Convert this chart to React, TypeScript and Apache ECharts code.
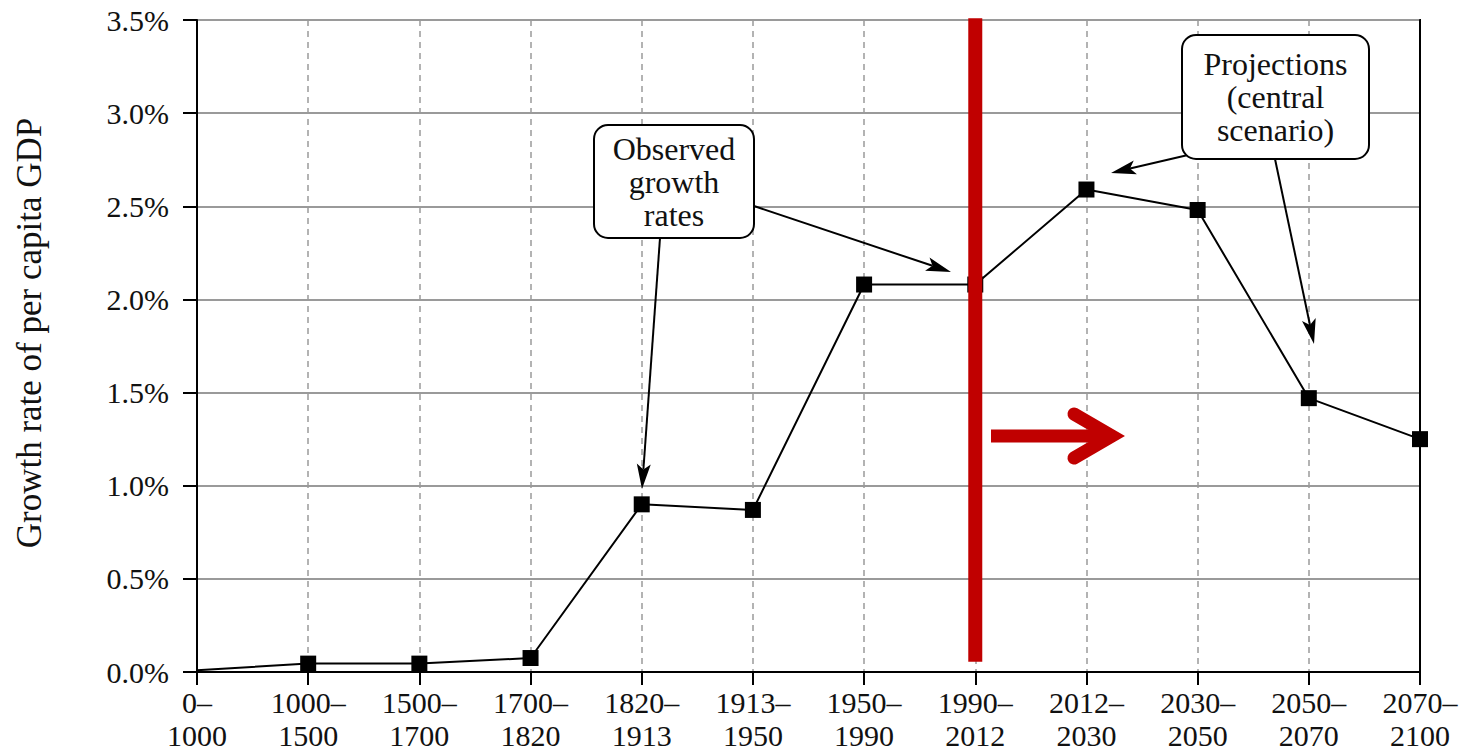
import React, { useEffect, useRef } from 'react';
import * as echarts from 'echarts';

const periods = [
  '0–\n1000', '1000–\n1500', '1500–\n1700', '1700–\n1820', '1820–\n1913', '1913–\n1950',
  '1950–\n1990', '1990–\n2012', '2012–\n2030', '2030–\n2050', '2050–\n2070', '2070–\n2100',
];
const growthRates = [0.01, 0.045, 0.045, 0.075, 0.9, 0.87, 2.08, 2.08, 2.59, 2.48, 1.47, 1.25];
const dividerPeriod = periods[7];
const dividerSpan = [3.51, 0.055];
const yAxisTitle = 'Growth rate of per capita GDP';
const observedLabel = 'Observed\ngrowth\nrates';
const projectionLabel = 'Projections\n(central\nscenario)';

const SERIF = '"Liberation Serif", "DejaVu Serif", serif';

function arrow(x1: number, y1: number, x2: number, y2: number, len = 25, w = 7) {
  const dx = x2 - x1;
  const dy = y2 - y1;
  const d = Math.hypot(dx, dy);
  const ux = dx / d;
  const uy = dy / d;
  const px = -uy;
  const py = ux;
  const bx = x2 - ux * len;
  const by = y2 - uy * len;
  const nx = x2 - ux * len * 0.78;
  const ny = y2 - uy * len * 0.78;
  return [
    {
      type: 'line',
      shape: { x1, y1, x2: nx, y2: ny },
      style: { stroke: '#000', lineWidth: 2 },
      z: 50,
    },
    {
      type: 'polygon',
      shape: {
        points: [
          [x2, y2],
          [bx + px * w, by + py * w],
          [nx, ny],
          [bx - px * w, by - py * w],
        ],
      },
      style: { fill: '#000' },
      z: 50,
    },
  ];
}

function callout(x: number, y: number, w: number, h: number, text: string) {
  return [
    {
      type: 'rect',
      shape: { x, y, width: w, height: h, r: 14 },
      style: { fill: '#fff', stroke: '#000', lineWidth: 2 },
      z: 60,
    },
    {
      type: 'text',
      x: x + w / 2,
      y: y + h / 2,
      style: {
        text,
        fill: '#111',
        font: `32px ${SERIF}`,
        align: 'center',
        verticalAlign: 'middle',
        lineHeight: 33,
      },
      z: 61,
    },
  ];
}

export default function App() {
  const ref = useRef<HTMLDivElement>(null);

  useEffect(() => {
    if (!ref.current) return;
    const chart = echarts.init(ref.current, null, { renderer: 'svg' });

    const data = growthRates.map((v, i) => (i === 0 ? { value: v, symbol: 'none' } : v));

    const option: any = {
      animation: false,
      backgroundColor: '#fff',
      grid: {
        left: 197,
        right: 60,
        top: 20,
        bottom: 80,
        show: true,
        borderColor: '#000',
        borderWidth: 2,
        backgroundColor: 'transparent',
      },
      xAxis: {
        type: 'category',
        data: periods,
        boundaryGap: false,
        axisLine: { show: true, lineStyle: { color: '#000', width: 2 } },
        axisTick: { show: true, length: 13, lineStyle: { color: '#000', width: 2 } },
        axisLabel: {
          color: '#111',
          fontFamily: SERIF,
          fontSize: 30,
          lineHeight: 33,
          margin: 14,
          interval: 0,
        },
        splitLine: { show: true, lineStyle: { color: '#9a9a9a', width: 1.5, type: [6, 5] } },
      },
      yAxis: [
        {
          type: 'value',
          min: 0,
          max: 3.5,
          interval: 0.5,
          name: yAxisTitle,
          nameLocation: 'middle',
          nameRotate: 90,
          nameGap: 150,
          nameTextStyle: { color: '#111', fontFamily: SERIF, fontSize: 35, padding: [0, 0, 0, 26] },
          axisLine: { show: true, lineStyle: { color: '#000', width: 2 } },
          axisTick: { show: true, length: 14, lineStyle: { color: '#000', width: 2 } },
          axisLabel: {
            color: '#111',
            fontFamily: SERIF,
            fontSize: 30,
            margin: 28,
            formatter: (v: number) => v.toFixed(1) + '%',
          },
          splitLine: { show: true, lineStyle: { color: '#9a9a9a', width: 2 } },
        },
        {
          type: 'value',
          position: 'right',
          min: 0,
          max: 3.5,
          interval: 0.5,
          axisLine: { show: true, lineStyle: { color: '#000', width: 2 } },
          axisTick: { show: false },
          axisLabel: { show: false },
          splitLine: { show: false },
        },
      ],
      series: [
        {
          type: 'line',
          data,
          symbol: 'rect',
          symbolSize: 16,
          itemStyle: { color: '#000' },
          lineStyle: { color: '#000', width: 2 },
          z: 3,
        },
        {
          type: 'line',
          data: dividerSpan.map((v) => [dividerPeriod, v]),
          symbol: 'none',
          silent: true,
          lineStyle: { color: '#c00000', width: 14, cap: 'butt' },
          z: 10,
        },
      ],
      graphic: [
        {
          type: 'line',
          shape: { x1: 991, y1: 436, x2: 1110, y2: 436 },
          style: { stroke: '#c00000', lineWidth: 13, lineCap: 'butt' },
          z: 40,
        },
        {
          type: 'polyline',
          shape: { points: [[1074, 414], [1112, 436], [1074, 458]] },
          style: { stroke: '#c00000', lineWidth: 13, lineCap: 'round', lineJoin: 'miter', fill: null },
          z: 40,
        },
        ...arrow(660, 238, 642, 489),
        ...arrow(754, 206, 951, 272),
        ...arrow(1188, 155, 1111, 173),
        ...arrow(1275, 159, 1314, 344),
        ...callout(594, 125, 160, 113, observedLabel),
        ...callout(1182, 35, 187, 124, projectionLabel),
      ],
    };

    chart.setOption(option);
    return () => chart.dispose();
  }, []);

  return (
    <div
      ref={ref}
      style={{ position: 'fixed', left: 0, top: 0, width: 1480, height: 752 }}
    />
  );
}
